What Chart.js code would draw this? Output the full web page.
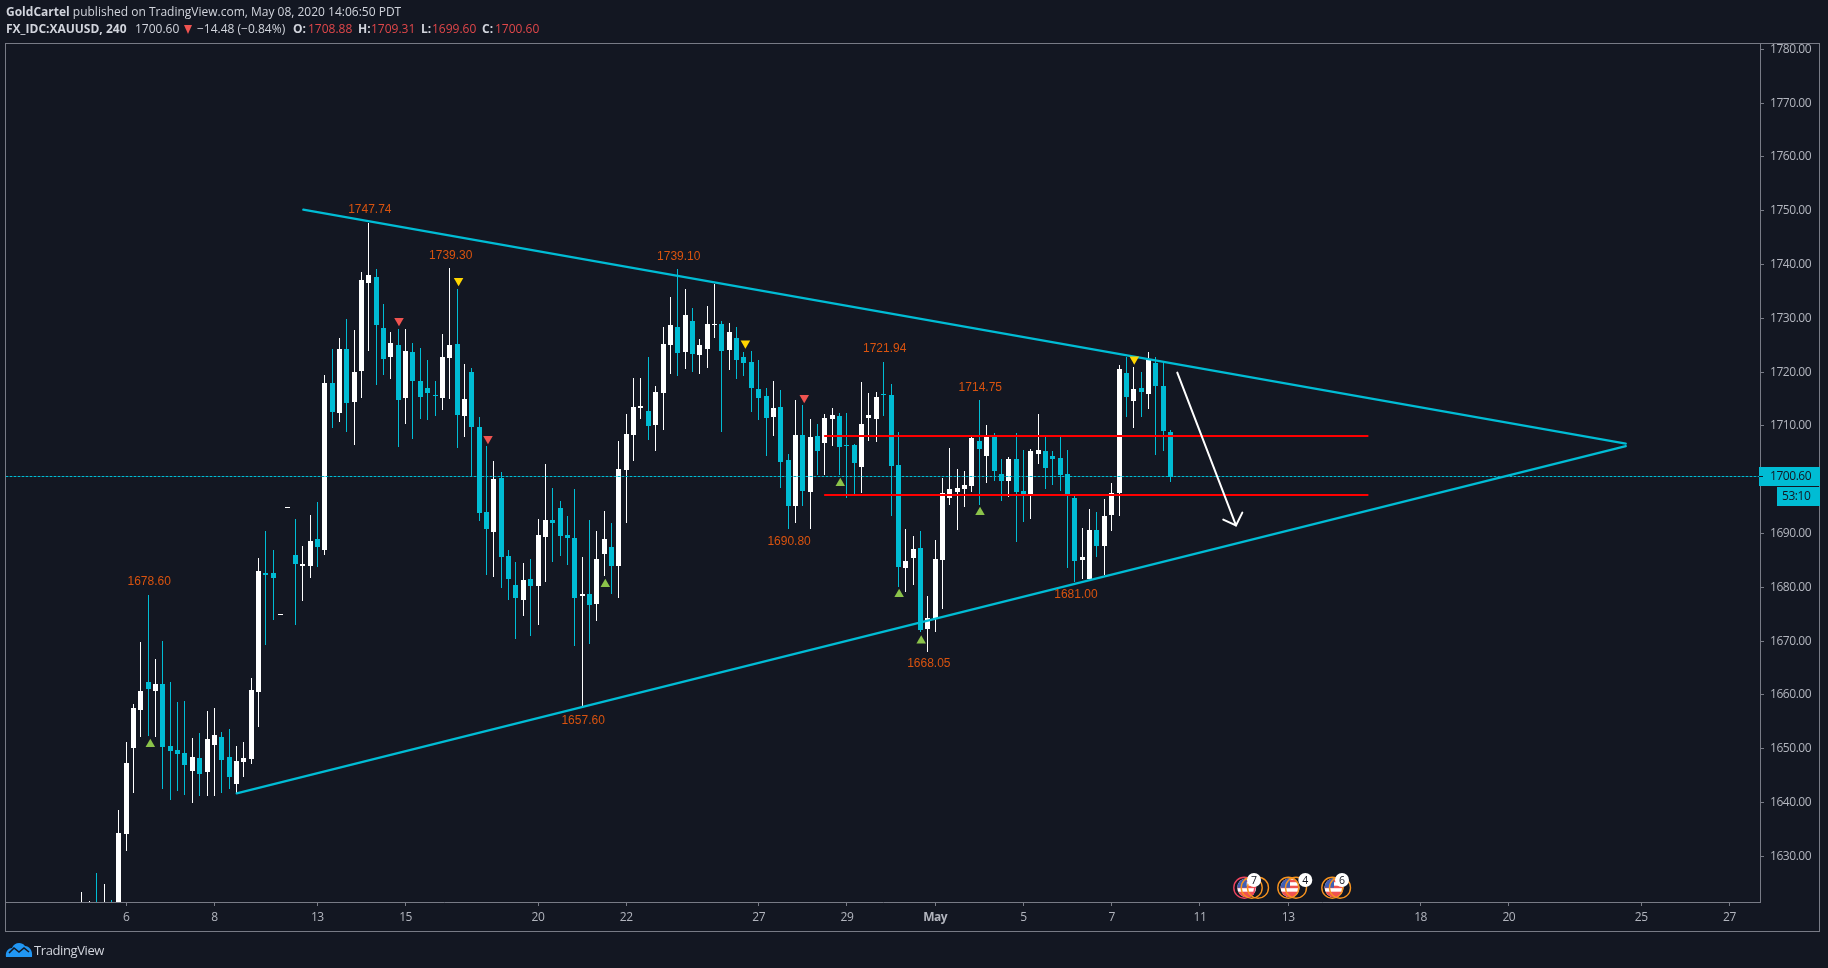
<!DOCTYPE html>
<html>
<head>
<meta charset="utf-8">
<title>XAUUSD 240</title>
<script src="https://cdn.jsdelivr.net/npm/chart.js@4/dist/chart.umd.min.js"></script>
<style>
  html, body { margin: 0; padding: 0; background: #131722; width: 1828px; height: 968px; overflow: hidden; }
  canvas { position: absolute; left: 0; top: 0; }
  .hdr { position: absolute; white-space: nowrap; font: 12px "Open Sans", sans-serif; color: #d1d4dc; line-height: 16px; }
  .hdr b { font-weight: 700; }
  .red { color: #e0474a; }
  #downMark { position: absolute; left: 184px; top: 25px; width: 0; height: 0;
    border-left: 4px solid transparent; border-right: 4px solid transparent; border-top: 9px solid #ef5350; }
  #logoText { position: absolute; left: 34px; top: 941px; font: 13px "Open Sans", sans-serif; letter-spacing: -0.4px; color: #d1d4dc; line-height: 18px; }
  svg.abs { position: absolute; left: 0; top: 0; pointer-events: none; }
</style>
</head>
<body>
<canvas id="priceChart" width="1828" height="968"></canvas>

<div class="hdr" style="left:6px;top:4px"><b>GoldCartel</b> published on TradingView.com, May 08, 2020 14:06:50 PDT</div>
<div class="hdr" style="left:6px;top:21px"><b>FX_IDC:XAUUSD, 240</b></div>
<div class="hdr" style="left:135px;top:21px">1700.60</div>
<div id="downMark"></div>
<div class="hdr" style="left:197px;top:21px">−14.48 (−0.84%)</div>
<div class="hdr" style="left:293px;top:21px"><b>O:</b></div>
<div class="hdr red" style="left:308px;top:21px">1708.88</div>
<div class="hdr" style="left:358px;top:21px"><b>H:</b></div>
<div class="hdr red" style="left:371px;top:21px">1709.31</div>
<div class="hdr" style="left:421px;top:21px"><b>L:</b></div>
<div class="hdr red" style="left:432px;top:21px">1699.60</div>
<div class="hdr" style="left:482px;top:21px"><b>C:</b></div>
<div class="hdr red" style="left:495px;top:21px">1700.60</div>

<div id="logoText">TradingView</div>
<svg class="abs" width="1828" height="968" id="overlay">
  <path d="M6 957 C5 951 9 948 12 948 C14 943 21 941 25 946 C29 946 33 950 32 957 Z" fill="#2196f3"/>
  <path d="M9 953 L14 948 L19 952 L24 948 L29 952" fill="none" stroke="#131722" stroke-width="1.6"/>
</svg>

<script>
// 4h bars, index 0 is the first bar at the left edge of the picture
const opens = [
  1615, 1616, 1619, 1616, 1620, 1615, 1634.15, 1650.14, 1657.20, 1662.41,
  1660.73, 1662.03, 1650.51, 1649.77, 1649.21, 1645.86, 1648.28, 1645.68, 1650.69, 1652.18,
  1648.46, 1643.45, 1647.53, 1648.09, 1660.55, 1682.67, 1682.67, 1674.9, 1694.8, 1686.01,
  1683.97, 1683.96, 1688.98, 1686.93, 1717.97, 1712.40, 1724.29, 1714.44, 1720.20, 1736.56,
  1737.68, 1728.20, 1722.81, 1725.04, 1715.19, 1723.74, 1718.35, 1717.04, 1715.74, 1715.19,
  1722.62, 1725.22, 1711.84, 1720.02, 1709.80, 1694.00, 1690.28, 1700.32, 1685.82, 1680.43,
  1677.64, 1681.54, 1680.24, 1689.35, 1692.51, 1694.74, 1689.72, 1689.17, 1678.38, 1678.76,
  1676.90, 1686.19, 1687.49, 1683.96, 1701.81, 1708.31, 1713.33, 1712.77, 1710.17, 1716.12,
  1725.04, 1728.39, 1723.74, 1729.50, 1723.18, 1724.30, 1728.76, 1728.94, 1724.11, 1726.34,
  1722.81, 1721.88, 1716.86, 1715.56, 1711.66, 1713.52, 1703.67, 1695.12, 1708.31, 1697.72,
  1708.13, 1706.83, 1711.29, 1711.85, 1706.45, 1706.45, 1702.37, 1711.47, 1711.29, 1715.94,
  1715.75, 1702.74, 1683.59, 1685.45, 1687.31, 1672.25, 1674.30, 1685.08, 1696.60, 1697.72,
  1698.28, 1698.83, 1707.20, 1704.41, 1707.94, 1701.06, 1699.76, 1703.85, 1697.90, 1697.35,
  1704.78, 1705.34, 1704.41, 1704.04, 1701.06, 1696.60, 1685.08, 1681.55, 1690.66, 1687.68,
  1693.44, 1697.53, 1719.84, 1714.63, 1717.05, 1715.94, 1721.70, 1717.42, 1708.88
];
const highs = [
  1623.37, 1621.70, 1626.90, 1624.86, 1621.88, 1638.61, 1651.25, 1658.32, 1669.84, 1678.60,
  1666.68, 1670.03, 1662.41, 1658.69, 1658.87, 1652.00, 1652.93, 1657.01, 1657.57, 1653.11,
  1653.67, 1650.51, 1651.25, 1663.15, 1685.45, 1690.47, 1686.94, 1675.0, 1694.9, 1692.69,
  1687.68, 1693.44, 1695.85, 1719.46, 1724.29, 1726.34, 1729.87, 1727.83, 1738.61, 1747.74,
  1739.16, 1732.66, 1727.45, 1728.01, 1728.01, 1725.41, 1724.48, 1722.25, 1718.35, 1727.08,
  1739.30, 1735.45, 1721.51, 1720.76, 1711.65, 1706.27, 1703.48, 1701.43, 1686.93, 1684.70,
  1684.52, 1685.26, 1692.70, 1702.92, 1698.46, 1696.04, 1693.25, 1698.27, 1685.63, 1692.51,
  1690.47, 1694.18, 1691.95, 1707.20, 1712.21, 1718.91, 1718.91, 1722.81, 1717.42, 1728.39,
  1733.96, 1739.10, 1735.45, 1731.92, 1726.16, 1732.29, 1736.38, 1729.50, 1729.13, 1728.39,
  1723.74, 1723.92, 1722.25, 1717.05, 1718.35, 1716.68, 1704.78, 1714.82, 1713.89, 1711.29,
  1710.36, 1712.22, 1713.33, 1712.40, 1712.40, 1706.64, 1718.17, 1716.12, 1716.30, 1721.94,
  1717.79, 1708.87, 1690.84, 1689.54, 1690.47, 1678.39, 1688.80, 1700.32, 1705.90, 1701.99,
  1701.62, 1707.94, 1714.75, 1710.17, 1708.69, 1703.85, 1704.22, 1708.69, 1705.53, 1705.71,
  1712.22, 1707.94, 1705.34, 1707.94, 1705.53, 1696.98, 1691.03, 1694.56, 1694.00, 1696.42,
  1699.39, 1721.33, 1722.81, 1720.95, 1720.02, 1723.74, 1722.81, 1721.88, 1709.31
];
const lows = [
  1612, 1613, 1612, 1614, 1613, 1612, 1630.99, 1641.77, 1652.18, 1652.37,
  1652.18, 1642.52, 1640.47, 1642.14, 1641.40, 1639.91, 1641.21, 1641.21, 1641.21, 1641.77,
  1642.52, 1641.77, 1644.75, 1647.16, 1654.04, 1669.28, 1673.93, 1674.9, 1694.8, 1673.00,
  1677.46, 1681.73, 1683.77, 1686.00, 1709.61, 1710.72, 1708.87, 1706.45, 1715.19, 1723.92,
  1717.60, 1719.46, 1718.72, 1706.08, 1710.35, 1707.56, 1711.28, 1711.10, 1711.84, 1712.96,
  1715.00, 1705.89, 1707.94, 1700.56, 1692.32, 1682.29, 1681.92, 1679.87, 1677.64, 1670.39,
  1674.67, 1670.95, 1672.99, 1680.99, 1684.70, 1685.82, 1684.15, 1669.09, 1657.60, 1669.47,
  1673.74, 1682.10, 1678.76, 1678.01, 1691.95, 1703.48, 1711.29, 1707.38, 1705.34, 1709.24,
  1719.65, 1719.28, 1720.58, 1720.02, 1719.65, 1720.77, 1726.34, 1708.87, 1720.39, 1718.72,
  1719.28, 1712.59, 1711.10, 1704.41, 1708.13, 1698.46, 1690.80, 1691.96, 1695.12, 1690.84,
  1700.88, 1700.88, 1706.27, 1700.88, 1696.60, 1697.35, 1697.53, 1707.20, 1707.01, 1711.85,
  1693.26, 1680.06, 1679.13, 1680.43, 1671.70, 1668.05, 1671.70, 1675.97, 1695.30, 1690.66,
  1694.93, 1697.72, 1695.30, 1699.39, 1699.76, 1696.05, 1696.79, 1688.42, 1692.14, 1692.70,
  1702.92, 1698.28, 1699.02, 1697.90, 1683.59, 1681.00, 1681.55, 1681.55, 1685.64, 1682.29,
  1690.47, 1693.26, 1711.66, 1709.62, 1711.66, 1713.15, 1704.60, 1705.34, 1699.60
];
const closes = [
  1618, 1618.5, 1617, 1620, 1617, 1634.34, 1647.35, 1657.57, 1660.73, 1661.10,
  1662.03, 1650.32, 1649.58, 1649.02, 1646.98, 1648.46, 1645.30, 1651.81, 1652.55, 1647.91,
  1644.75, 1647.72, 1648.28, 1660.92, 1683.04, 1682.29, 1681.74, 1675.0, 1694.9, 1684.34,
  1684.34, 1688.61, 1687.49, 1717.97, 1712.58, 1724.29, 1714.26, 1720.02, 1737.12, 1738.05,
  1728.75, 1722.44, 1725.41, 1714.81, 1723.92, 1718.35, 1715.37, 1716.12, 1715.56, 1722.81,
  1725.04, 1712.03, 1715.00, 1709.80, 1693.81, 1690.84, 1700.13, 1685.63, 1681.54, 1678.01,
  1681.36, 1680.24, 1689.72, 1692.51, 1691.95, 1689.54, 1689.17, 1678.01, 1678.76, 1676.71,
  1685.26, 1688.98, 1683.96, 1701.99, 1708.50, 1713.52, 1713.70, 1709.98, 1716.30, 1725.23,
  1728.76, 1723.55, 1730.62, 1723.37, 1725.04, 1728.94, 1728.94, 1723.92, 1727.46, 1722.25,
  1721.69, 1717.05, 1715.19, 1711.47, 1713.33, 1703.30, 1695.12, 1708.31, 1697.90, 1707.94,
  1705.34, 1711.47, 1712.03, 1706.08, 1706.27, 1703.11, 1710.36, 1712.03, 1715.38, 1715.75,
  1702.55, 1683.78, 1684.89, 1687.12, 1672.07, 1674.30, 1685.26, 1697.53, 1698.28, 1698.46,
  1699.02, 1707.76, 1705.71, 1707.94, 1701.62, 1699.76, 1703.85, 1697.72, 1697.35, 1705.34,
  1705.53, 1702.18, 1703.85, 1700.88, 1697.35, 1684.89, 1685.64, 1690.66, 1687.68, 1693.26,
  1697.53, 1720.58, 1715.38, 1716.86, 1716.31, 1722.25, 1717.42, 1709.06, 1700.60
];

// date labels sit on these bar slots
const dayTickIdx = [6, 18, 32, 44, 62, 74, 92, 104, 116, 128, 140, 152, 164, 182, 194, 212, 224];
const dayTickLabels = ["6", "8", "13", "15", "20", "22", "27", "29", "May", "5", "7", "11", "13", "18", "20", "25", "27"];

// high/low labels
const pivotIdx = [9, 39, 50, 81, 109, 122, 96, 115, 135, 68];
const pivotVal = [1678.60, 1747.74, 1739.30, 1739.10, 1721.94, 1714.75, 1690.80, 1668.05, 1681.00, 1657.60];

// signal triangles
const greenIdx = [9.29, 71.15, 103.1, 111.1, 114.1, 122.1];
const greenVal = [1650.82, 1680.55, 1699.33, 1678.70, 1670.09, 1693.94];
const redIdx = [43.1, 55.2, 98.2];
const redVal = [1729.56, 1707.63, 1715.25];
const yellowIdx = [51.2, 90.2, 143.07];
const yellowVal = [1737.0, 1725.35, 1722.38];

// drawings
const wedgeTopIdx = [30.09, 209.9];
const wedgeTopVal = [1750.2, 1706.71];
const wedgeBotIdx = [21.03, 209.9];
const wedgeBotVal = [1641.71, 1706.26];
const levelIdx = [101.0, 174.8];
const levelHigh = 1708.13;
const levelLow = 1697.16;
const arrowIdx = [148.92, 156.9];
const arrowVal = [1719.91, 1691.52];
const headIdx = [155.17, 156.9, 157.76];
const headVal = [1692.58, 1691.52, 1693.88];

const lastPrice = 1700.60;
const countdown = "53:10";
const eventGroups = [
  { count: "7", flagX: 1246.7, rings: [1244.3, 1251.7, 1258], ringCols: ["#f0445f", "#f7931e", "#f7931e"], badgeX: 1254 },
  { count: "4", flagX: 1290, rings: [1288.3, 1296], ringCols: ["#f7931e", "#f7931e"], badgeX: 1305.3 },
  { count: "6", flagX: 1334, rings: [1332.3, 1340], ringCols: ["#f7931e", "#f7931e"], badgeX: 1342 }
];

const TEAL = "#00bcd4";
const WHITE = "#ffffff";
const BG = "#131722";
const AXIS = "#787b86";
const TICK_TEXT = "#b2b5be";
const ORANGE = "#d9530f";
const FONT = "Open Sans";

const barCol = closes.map((c, i) => (c >= opens[i] ? WHITE : TEAL));
const xy = (xs, ys) => xs.map((x, i) => ({ x: x, y: ys[i] }));

function lineSet(data, color, width, order, dash) {
  return {
    type: "line",
    data: data,
    borderColor: color,
    borderWidth: width,
    borderDash: dash || [],
    borderCapStyle: "round",
    pointRadius: 0,
    tension: 0,
    fill: false,
    order: order
  };
}

function triSet(data, color, rotation) {
  return {
    type: "scatter",
    data: data,
    pointStyle: "triangle",
    pointRadius: 5.5,
    pointRotation: rotation,
    backgroundColor: color,
    borderWidth: 0,
    order: 1
  };
}

// keep bars on whole pixels so wicks stay 1px sharp
const snapBars = {
  id: "snapBars",
  beforeDraw(chart) {
    // the axis labels in the reference are set tight
    chart.ctx.letterSpacing = "-0.45px";
  },
  beforeDatasetsDraw(chart) {
    [0, 1].forEach((n) => {
      chart.getDatasetMeta(n).data.forEach((el) => {
        el.x = Math.floor(el.x) + 0.5;
        el.y = Math.round(el.y);
        el.base = Math.round(el.base);
        if (el.y === el.base) el.y = el.base - 1;
      });
    });
  }
};

const extras = {
  id: "extras",
  afterDatasetsDraw(chart) {
    const { ctx, scales } = chart;
    const sx = scales.x;
    const sy = scales.y;

    ctx.save();
    ctx.letterSpacing = "0px";
    ctx.font = "12px 'Liberation Sans'";
    ctx.fillStyle = ORANGE;
    ctx.textAlign = "center";
    ctx.textBaseline = "middle";
    pivotIdx.forEach((idx, k) => {
      const v = pivotVal[k];
      const off = highs[idx] === v ? -13 : 12.5;
      ctx.fillText(v.toFixed(2), sx.getPixelForValue(idx) + 1, sy.getPixelForValue(v) + off);
    });
    ctx.restore();
  },
  afterDraw(chart) {
    const { ctx, scales, chartArea } = chart;
    const sy = scales.y;
    const py = Math.floor(sy.getPixelForValue(lastPrice));

    ctx.save();
    // outer frame
    ctx.strokeStyle = AXIS;
    ctx.lineWidth = 1;
    ctx.strokeRect(chartArea.left - 0.5, chartArea.top + 0.5, 1814, 888);

    // last price and countdown tags
    ctx.fillStyle = TEAL;
    ctx.fillRect(1759, py - 9, 61, 19);
    ctx.fillRect(1777, py + 11, 43, 19);
    ctx.fillStyle = BG;
    ctx.fillRect(1759, py, 4, 1);
    ctx.font = "12px '" + FONT + "'";
    ctx.textBaseline = "middle";
    ctx.textAlign = "left";
    ctx.fillText(lastPrice.toFixed(2), 1770, py + 1);
    ctx.fillText(countdown, 1782, py + 21);
    ctx.restore();
  }
};

const ctx = document.getElementById("priceChart").getContext("2d");
new Chart(ctx, {
  type: "bar",
  plugins: [snapBars, extras],
  data: {
    datasets: [
      {
        label: "wick",
        data: lows.map((l, i) => ({ x: i, y: [l, highs[i]] })),
        backgroundColor: barCol,
        barThickness: 1,
        inflateAmount: 0,
        grouped: false,
        order: 6
      },
      {
        label: "body",
        data: opens.map((o, i) => ({ x: i, y: [o, closes[i]] })),
        backgroundColor: barCol,
        barThickness: 5,
        inflateAmount: 0,
        grouped: false,
        order: 5
      },
      lineSet(xy([-10.333, 228.147], [lastPrice, lastPrice]), TEAL, 1, 4, [2, 2]),
      lineSet(xy(levelIdx, [levelHigh, levelHigh]), "#ff0000", 2, 3),
      lineSet(xy(levelIdx, [levelLow, levelLow]), "#ff0000", 2, 3),
      lineSet(xy(wedgeTopIdx, wedgeTopVal), TEAL, 2.3, 2),
      lineSet(xy(wedgeBotIdx, wedgeBotVal), TEAL, 2.3, 2),
      lineSet(xy(arrowIdx, arrowVal), WHITE, 2, 2),
      lineSet(xy(headIdx, headVal), WHITE, 2, 2),
      triSet(xy(greenIdx, greenVal), "#8bc34a", 0),
      triSet(xy(redIdx, redVal), "#ef5350", 180),
      triSet(xy(yellowIdx, yellowVal), "#ffd600", 180)
    ]
  },
  options: {
    responsive: false,
    animation: false,
    events: [],
    layout: { padding: { left: 6, top: 43, right: 8, bottom: 37 } },
    plugins: { legend: { display: false }, tooltip: { enabled: false } },
    scales: {
      x: {
        type: "linear",
        offset: false,
        min: -10.333,
        max: 228.147,
        afterFit: (scale) => { scale.height = 29; },
        afterBuildTicks: (scale) => { scale.ticks = dayTickIdx.map((v) => ({ value: v })); },
        grid: { offset: false, drawOnChartArea: false, tickLength: 4, color: AXIS },
        border: { color: AXIS },
        ticks: {
          autoSkip: false,
          maxRotation: 0,
          padding: 4,
          color: TICK_TEXT,
          font: (c) => ({ family: FONT, size: 12, weight: c.tick && c.tick.label === "May" ? "bold" : "normal" }),
          callback: (v, i) => dayTickLabels[i]
        }
      },
      y: {
        type: "linear",
        position: "right",
        min: 1621.511,
        max: 1781.176,
        afterFit: (scale) => { scale.width = 60; },
        grid: { drawOnChartArea: false, tickLength: 4, color: AXIS },
        border: { color: AXIS },
        ticks: {
          stepSize: 10,
          includeBounds: false,
          padding: 6,
          color: TICK_TEXT,
          font: { family: FONT, size: 12 },
          callback: (v) => v.toFixed(2)
        }
      }
    }
  }
});

// economic event icons at the bottom of the pane
const NS = "http://www.w3.org/2000/svg";
const overlay = document.getElementById("overlay");
function svgEl(tag, attrs, parent) {
  const el = document.createElementNS(NS, tag);
  Object.keys(attrs).forEach((k) => el.setAttribute(k, attrs[k]));
  (parent || overlay).appendChild(el);
  return el;
}
const ICON_Y = 887.7;
eventGroups.forEach((g, n) => {
  const clip = svgEl("clipPath", { id: "flag" + n });
  svgEl("circle", { cx: g.flagX, cy: ICON_Y, r: 9.5 }, clip);
  const flag = svgEl("g", { "clip-path": "url(#flag" + n + ")" });
  svgEl("rect", { x: g.flagX - 10, y: ICON_Y - 10, width: 20, height: 20, fill: "#ffffff" }, flag);
  svgEl("rect", { x: g.flagX - 10, y: ICON_Y + 4, width: 20, height: 6, fill: "#ef5350" }, flag);
  svgEl("rect", { x: g.flagX - 10, y: ICON_Y - 2, width: 20, height: 2.5, fill: "#ef5350" }, flag);
  svgEl("rect", { x: g.flagX - 10, y: ICON_Y - 8, width: 20, height: 2.5, fill: "#ef5350" }, flag);
  svgEl("rect", { x: g.flagX - 10, y: ICON_Y - 10, width: 10, height: 10, fill: "#3f5fb5" }, flag);
  g.rings.forEach((rx, k) => {
    svgEl("circle", { cx: rx, cy: ICON_Y, r: 10.5, fill: "none", stroke: g.ringCols[k], "stroke-width": 1.4 });
  });
  svgEl("circle", { cx: g.badgeX, cy: 880, r: 7, fill: "#ffffff" });
  const t = svgEl("text", {
    x: g.badgeX, y: 883.5, "text-anchor": "middle", "font-family": FONT, "font-size": 10.5, fill: "#131722"
  });
  t.textContent = g.count;
});
</script>
</body>
</html>
